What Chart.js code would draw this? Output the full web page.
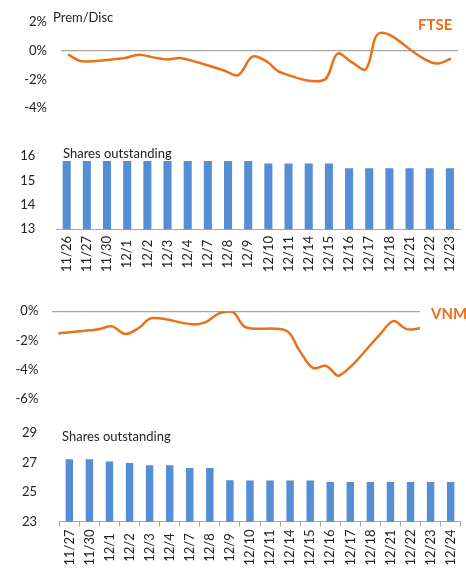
<!DOCTYPE html>
<html>
<head>
<meta charset="utf-8">
<script src="https://cdn.jsdelivr.net/npm/chart.js@4"></script>
<style>
  html, body { margin: 0; padding: 0; background: #fff; }
  #wrap { position: relative; width: 466px; height: 581px; overflow: hidden; font-family: Lato, sans-serif; }
  canvas { position: absolute; left: 0; }
  .note { position: absolute; font-size: 13px; line-height: 13px; color: #222; white-space: nowrap; }
  .tag { position: absolute; font-size: 15px; line-height: 15px; font-weight: bold; color: #E8711A; white-space: nowrap; }
</style>
</head>
<body>
<div id="wrap">
  <canvas id="ftseLine" width="466" height="130" style="top:0"></canvas>
  <canvas id="ftseBars" width="466" height="145" style="top:135px"></canvas>
  <canvas id="vnmLine" width="466" height="130" style="top:290px"></canvas>
  <canvas id="vnmBars" width="466" height="171" style="top:410px"></canvas>
  <div class="note" style="left:53px; top:11px">Prem/Disc</div>
  <div class="tag" style="left:418px; top:17px">FTSE</div>
  <div class="note" style="left:63px; top:147px">Shares outstanding</div>
  <div class="tag" style="left:431px; top:306px">VNM</div>
  <div class="note" style="left:62px; top:430px">Shares outstanding</div>
</div>
<script>
// ---------- data ----------
const ftseDates = ['11/26', '11/27', '11/30', '12/1', '12/2', '12/3', '12/4', '12/7', '12/8', '12/9',
  '12/10', '12/11', '12/14', '12/15', '12/16', '12/17', '12/18', '12/21', '12/22', '12/23'];
// premium / discount, %
const ftsePremDisc = [-0.28, -0.74, -0.51, -0.28, -0.47, -0.61, -0.53, -1.38, -1.71, -0.42,
  -0.75, -1.52, -2.06, -0.22, -0.80, -1.28, 1.23, -0.51, -0.90, -0.57];
// shares outstanding, mn
const ftseShares = [15.8, 15.8, 15.8, 15.8, 15.8, 15.8, 15.8, 15.8, 15.8, 15.8,
  15.7, 15.7, 15.7, 15.7, 15.5, 15.5, 15.5, 15.5, 15.5, 15.5];

const vnmDates = ['11/27', '11/30', '12/1', '12/2', '12/3', '12/4', '12/7', '12/8', '12/9', '12/10',
  '12/11', '12/14', '12/15', '12/16', '12/17', '12/18', '12/21', '12/22', '12/23', '12/24'];
const vnmPremDisc = [-1.52, -1.23, -1.04, -1.56, -1.15, -0.47, -0.90, -0.75, -0.15, -0.03,
  -1.10, -1.33, -2.70, -3.88, -3.75, -4.40, -1.60, -0.68, -1.23, -1.17];
const vnmShares = [27.22, 27.22, 27.07, 26.97, 26.82, 26.82, 26.64, 26.64, 25.80, 25.78,
  25.78, 25.78, 25.78, 25.69, 25.69, 25.69, 25.69, 25.69, 25.69, 25.69];

const pctTicks = { top: [2, -4], bottom: [0, -6] };

// ---------- helpers ----------
const ORANGE = '#E8711A';
const BLUE = '#558ED5';
const AXIS = '#A6A6A6';
const TEXT = '#222';
const FONT = { family: 'Lato', size: 13 };
Chart.defaults.font = FONT;
Chart.defaults.color = TEXT;

// dates are in 2020; line charts use a day axis like Excel's date axis
const dayIndex = (label, first) => {
  const [m, d] = label.split('/').map(Number);
  const [m0, d0] = first.split('/').map(Number);
  return Math.round((new Date(2020, m - 1, d) - new Date(2020, m0 - 1, d0)) / 864e5);
};
const toPoints = (dates, values) => dates.map((l, i) => ({ x: dayIndex(l, dates[0]), y: values[i] }));

// vertical x labels, centred under each bar
const vertLabels = {
  id: 'vertLabels',
  afterDraw(chart, args, opts) {
    const sc = chart.scales.x;
    const ctx = chart.ctx;
    ctx.save();
    ctx.font = '13px Lato';
    ctx.fillStyle = TEXT;
    ctx.textAlign = 'center';
    ctx.textBaseline = 'middle';
    chart.data.labels.forEach((lab, i) => {
      ctx.save();
      ctx.translate(sc.getPixelForTick(i), sc.top + opts.offset);
      ctx.rotate(-Math.PI / 2);
      ctx.fillText(lab, 0, 0);
      ctx.restore();
    });
    ctx.restore();
  }
};

function lineChart(id, dates, values, yMin, yMax, xMax, yWidth, pad, tickPad) {
  return new Chart(document.getElementById(id), {
    type: 'line',
    data: {
      datasets: [{ data: toPoints(dates, values), borderColor: ORANGE, borderWidth: 2.5,
        pointRadius: 0, tension: 0.35, fill: false }]
    },
    options: {
      responsive: false, animation: false, devicePixelRatio: 1,
      layout: { padding: pad },
      plugins: { legend: { display: false }, tooltip: { enabled: false } },
      scales: {
        x: { type: 'linear', min: -0.5, max: xMax, display: false },
        y: {
          min: yMin, max: yMax,
          afterFit: (s) => { s.width = yWidth; },
          border: { display: false },
          grid: { drawTicks: false, lineWidth: 1.2,
            color: (c) => (c.tick && c.tick.value === 0 ? AXIS : 'rgba(0,0,0,0)') },
          ticks: { stepSize: 2, padding: tickPad, callback: (v) => v + '%' }
        }
      }
    }
  });
}

function barChart(id, dates, values, yMin, yMax, step, yWidth, pad, tickPad, barPct, showTicks, labelOffset) {
  return new Chart(document.getElementById(id), {
    type: 'bar',
    data: {
      labels: dates,
      datasets: [{ data: values, backgroundColor: BLUE, categoryPercentage: 1, barPercentage: barPct }]
    },
    options: {
      responsive: false, animation: false, devicePixelRatio: 1,
      layout: { padding: pad },
      plugins: { legend: { display: false }, tooltip: { enabled: false }, vertLabels: { offset: labelOffset } },
      scales: {
        x: {
          afterFit: (s) => { s.height = 45; },
          border: { color: AXIS, width: 1 },
          grid: { display: showTicks, drawOnChartArea: false, tickLength: 5, color: AXIS },
          ticks: { display: false }
        },
        y: {
          min: yMin, max: yMax,
          afterFit: (s) => { s.width = yWidth; },
          border: { display: false },
          grid: { display: false },
          ticks: { stepSize: step, padding: tickPad }
        }
      }
    },
    plugins: [vertLabels]
  });
}

// ---------- charts ----------
lineChart('ftseLine', ftseDates, ftsePremDisc, pctTicks.top[1], pctTicks.top[0], 27.5, 61,
  { top: 17.3, bottom: 9.3, left: 0, right: 8 }, 14);
barChart('ftseBars', ftseDates, ftseShares, 13, 16, 1, 56.6,
  { top: 21, bottom: 5.7, left: 0, right: 6 }, 13.3, 0.4, false, 24.7);
lineChart('vnmLine', vnmDates, vnmPremDisc, pctTicks.bottom[1], pctTicks.bottom[0], 27, 51.7,
  { top: 17.3, bottom: 10.7, left: 0, right: 46 }, 13.4);
barChart('vnmBars', vnmDates, vnmShares, 23, 29, 2, 59.3,
  { top: 23, bottom: 14.3, left: 0, right: 5.3 }, 14.3, 0.37, true, 25.8);
</script>
</body>
</html>
